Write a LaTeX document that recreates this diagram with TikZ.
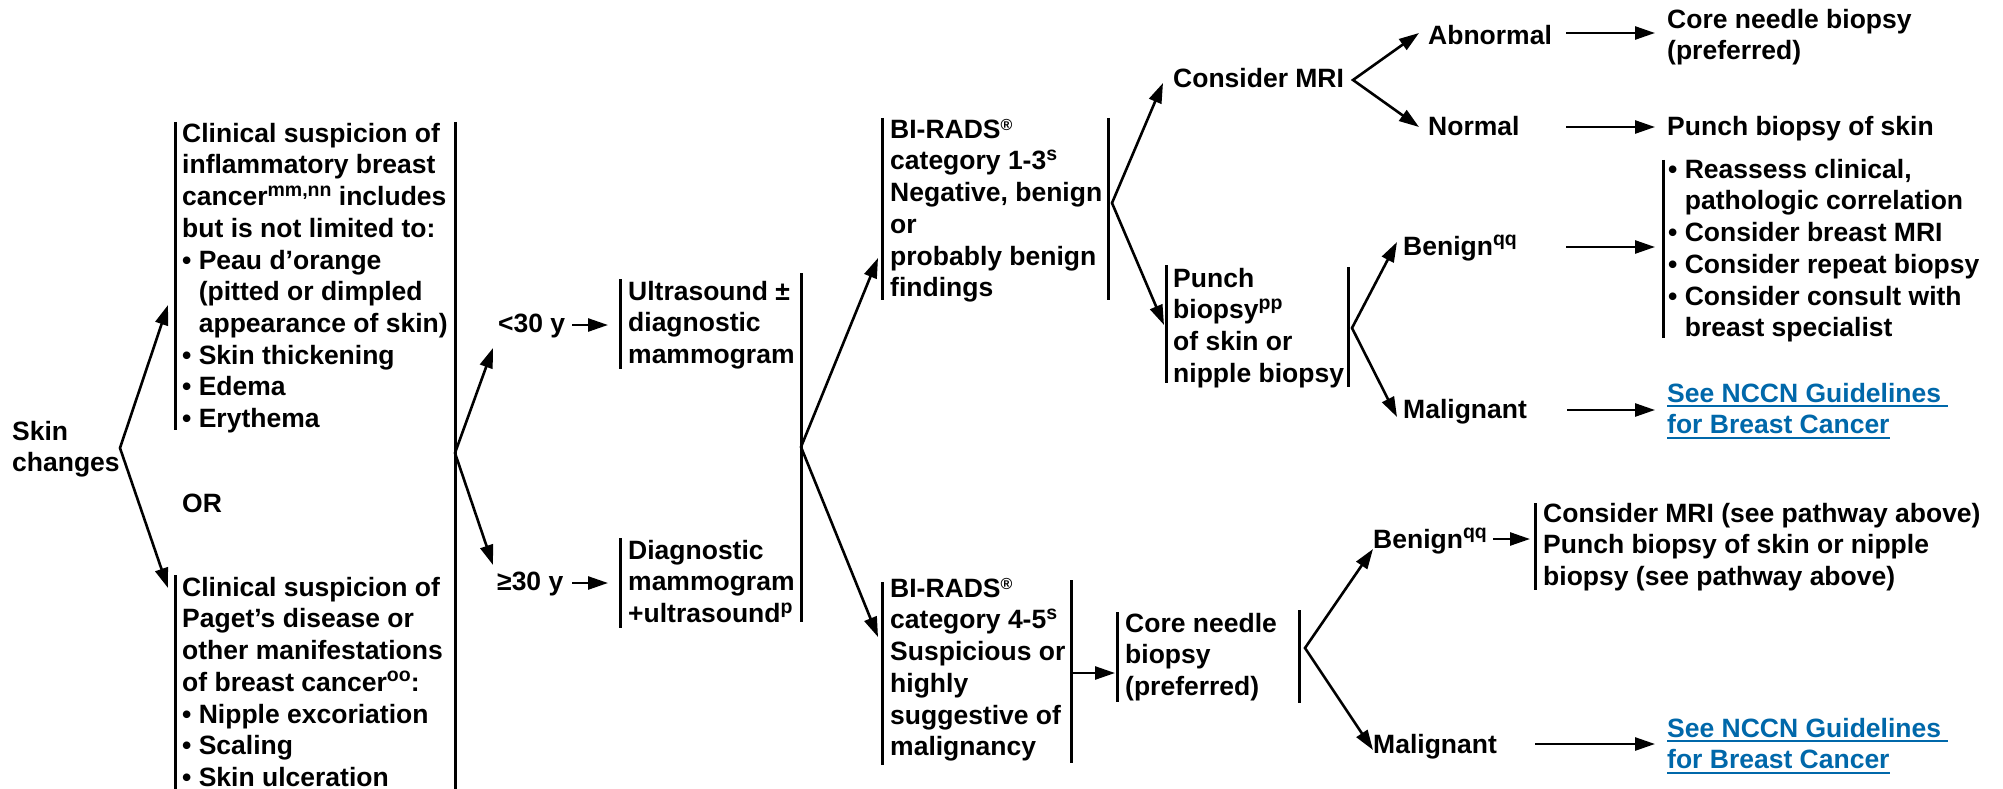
\documentclass[tikz,border=0pt]{standalone}
\usepackage{fontspec}
\setmainfont{Liberation Sans}
\usetikzlibrary{arrows.meta}
\definecolor{linkblue}{RGB}{0,104,170}
% fixed first-line height so every text block can be placed by its top edge
\newcommand\fl{\rule{0pt}{22pt}}
\newcommand\sps[1]{\raisebox{9.5pt}{\fontsize{19.5}{19.5}\selectfont #1}}
\newcommand\reg{\raisebox{7.5pt}{\fontsize{16}{16}\selectfont ®}}
\newcommand\ind{\hphantom{• }}
\newcommand\lnk[1]{\setbox0\hbox{#1}\rlap{\rule[-5pt]{\wd0}{1.8pt}}\box0}
\tikzset{
  tri/.tip={Triangle[length=20pt,width=13pt]},
  txt/.style={anchor=north west, inner sep=0pt, align=left,
    font=\bfseries\fontsize{26.5}{31.7}\selectfont},
  link/.style={txt, text=linkblue},
  ar/.style={line width=2.6pt, -tri},
  fk/.style={line width=2.6pt, tri-tri},
  bar/.style={line width=3pt},
}
\begin{document}
\begin{tikzpicture}[x=1pt,y=-1pt]
\useasboundingbox (0,0) rectangle (2003,789);
\clip (0,0) rectangle (2003,789);
\fill[white] (0,0) rectangle (2003,789);

% ---- text blocks ----
\node[txt] (skin) at (12,418) {\fl Skin\\changes};
\node[txt] (clin1) at (182,120) {\fl Clinical suspicion of\\inflammatory breast\\cancer\sps{mm,nn} includes\\but is not limited to:\\• Peau d’orange\\\ind(pitted or dimpled\\\ind appearance of skin)\\• Skin thickening\\• Edema\\• Erythema};
\node[txt] (orn) at (182,490) {\fl OR};
\node[txt] (clin2) at (182,574) {\fl Clinical suspicion of\\Paget’s disease or\\other manifestations\\of breast cancer\sps{oo}:\\• Nipple excoriation\\• Scaling\\• Skin ulceration};
\node[txt] (lt) at (498,310) {\fl <30 y};
\node[txt] (ge) at (497,568) {\fl ≥30 y};
\node[txt] (usd) at (628,278) {\fl Ultrasound ±\\diagnostic\\mammogram};
\node[txt] (dxm) at (628,537) {\fl Diagnostic\\mammogram\\+ultrasound\sps{p}};
\node[txt] (br13) at (890,116) {\fl BI-RADS\reg\\category 1-3\sps{s}\\Negative, benign\\or\\probably benign\\findings};
\node[txt] (br45) at (890,575) {\fl BI-RADS\reg\\category 4-5\sps{s}\\Suspicious or\\highly\\suggestive of\\malignancy};
\node[txt] (cnb) at (1125,610) {\fl Core needle\\biopsy\\(preferred)};
\node[txt] (mri) at (1173,65) {\fl Consider MRI};
\node[txt] (pun) at (1173,265) {\fl Punch\\biopsy\sps{pp}\\of skin or\\nipple biopsy};
\node[txt] (abn) at (1428,22) {\fl Abnormal};
\node[txt] (nor) at (1428,113) {\fl Normal};
\node[txt] (ben1) at (1403,233) {\fl Benign\sps{qq}};
\node[txt] (mal1) at (1403,396) {\fl Malignant};
\node[txt] (cnbr) at (1667,6) {\fl Core needle biopsy\\(preferred)};
\node[txt] (pbs) at (1667,113) {\fl Punch biopsy of skin};
\node[txt] (rea) at (1668,156) {\fl • Reassess clinical,\\\ind pathologic correlation\\• Consider breast MRI\\• Consider repeat biopsy\\• Consider consult with\\\ind breast specialist};
\node[link] (see1) at (1667,380) {\fl\lnk{See NCCN Guidelines\ }\\\lnk{for Breast Cancer}};
\node[txt] (ben2) at (1373,526) {\fl Benign\sps{qq}};
\node[txt] (mri2) at (1543,500) {\fl Consider MRI (see pathway above)\\Punch biopsy of skin or nipple\\biopsy (see pathway above)};
\node[txt] (mal2) at (1373,731) {\fl Malignant};
\node[link] (see2) at (1667,715) {\fl\lnk{See NCCN Guidelines\ }\\\lnk{for Breast Cancer}};

% ---- side bars of the text blocks ----
\draw[bar] (175,122) -- (175,430);
\draw[bar] (175,575) -- (175,789);
\draw[bar] (455,122) -- (455,789);
\draw[bar] (620,279) -- (620,369);
\draw[bar] (620,538) -- (620,628);
\draw[bar] (801,273) -- (801,622);
\draw[bar] (882,118) -- (882,300);
\draw[bar] (1108,118) -- (1108,300);
\draw[bar] (882,582) -- (882,765);
\draw[bar] (1071,580) -- (1071,763);
\draw[bar] (1117,612) -- (1117,702);
\draw[bar] (1299,610) -- (1299,703);
\draw[bar] (1166,265) -- (1166,383);
\draw[bar] (1348,267) -- (1348,387);
\draw[bar] (1663,160) -- (1663,338);
\draw[bar] (1535,503) -- (1535,590);

% ---- branch points and arrow ends ----
\coordinate (v0) at (120,448);  \coordinate (v0a) at (168,305);  \coordinate (v0b) at (168,588);
\coordinate (v1) at (455,453);  \coordinate (v1a) at (493,348);  \coordinate (v1b) at (493,565);
\coordinate (v2) at (801,447);  \coordinate (v2a) at (878,258);  \coordinate (v2b) at (878,637);
\coordinate (v3) at (1112,203); \coordinate (v3a) at (1163,83);  \coordinate (v3b) at (1164,325);
\coordinate (v4) at (1353,80);  \coordinate (v4a) at (1419,33);  \coordinate (v4b) at (1419,127);
\coordinate (v5) at (1352,328); \coordinate (v5a) at (1397,242); \coordinate (v5b) at (1397,417);
\coordinate (v6) at (1305,648); \coordinate (v6a) at (1373,549); \coordinate (v6b) at (1373,750);

\draw[fk] (v0a) -- (v0) -- (v0b);
\draw[fk] (v1a) -- (v1) -- (v1b);
\draw[fk] (v2a) -- (v2) -- (v2b);
\draw[fk] (v3a) -- (v3) -- (v3b);
\draw[fk] (v4a) -- (v4) -- (v4b);
\draw[fk] (v5a) -- (v5) -- (v5b);
\draw[fk] (v6a) -- (v6) -- (v6b);

\coordinate (h1s) at (572,325);  \coordinate (h1e) at (608,325);
\coordinate (h2s) at (572,583);  \coordinate (h2e) at (608,583);
\coordinate (h3s) at (1071,673); \coordinate (h3e) at (1115,673);
\coordinate (h4s) at (1566,33);  \coordinate (h4e) at (1655,33);
\coordinate (h5s) at (1566,127); \coordinate (h5e) at (1655,127);
\coordinate (h6s) at (1566,247); \coordinate (h6e) at (1655,247);
\coordinate (h7s) at (1567,410); \coordinate (h7e) at (1655,410);
\coordinate (h8s) at (1493,539); \coordinate (h8e) at (1530,539);
\coordinate (h9s) at (1535,744); \coordinate (h9e) at (1655,744);

\foreach \i in {1,...,9} \draw[ar] (h\i s) -- (h\i e);
\end{tikzpicture}
\end{document}
